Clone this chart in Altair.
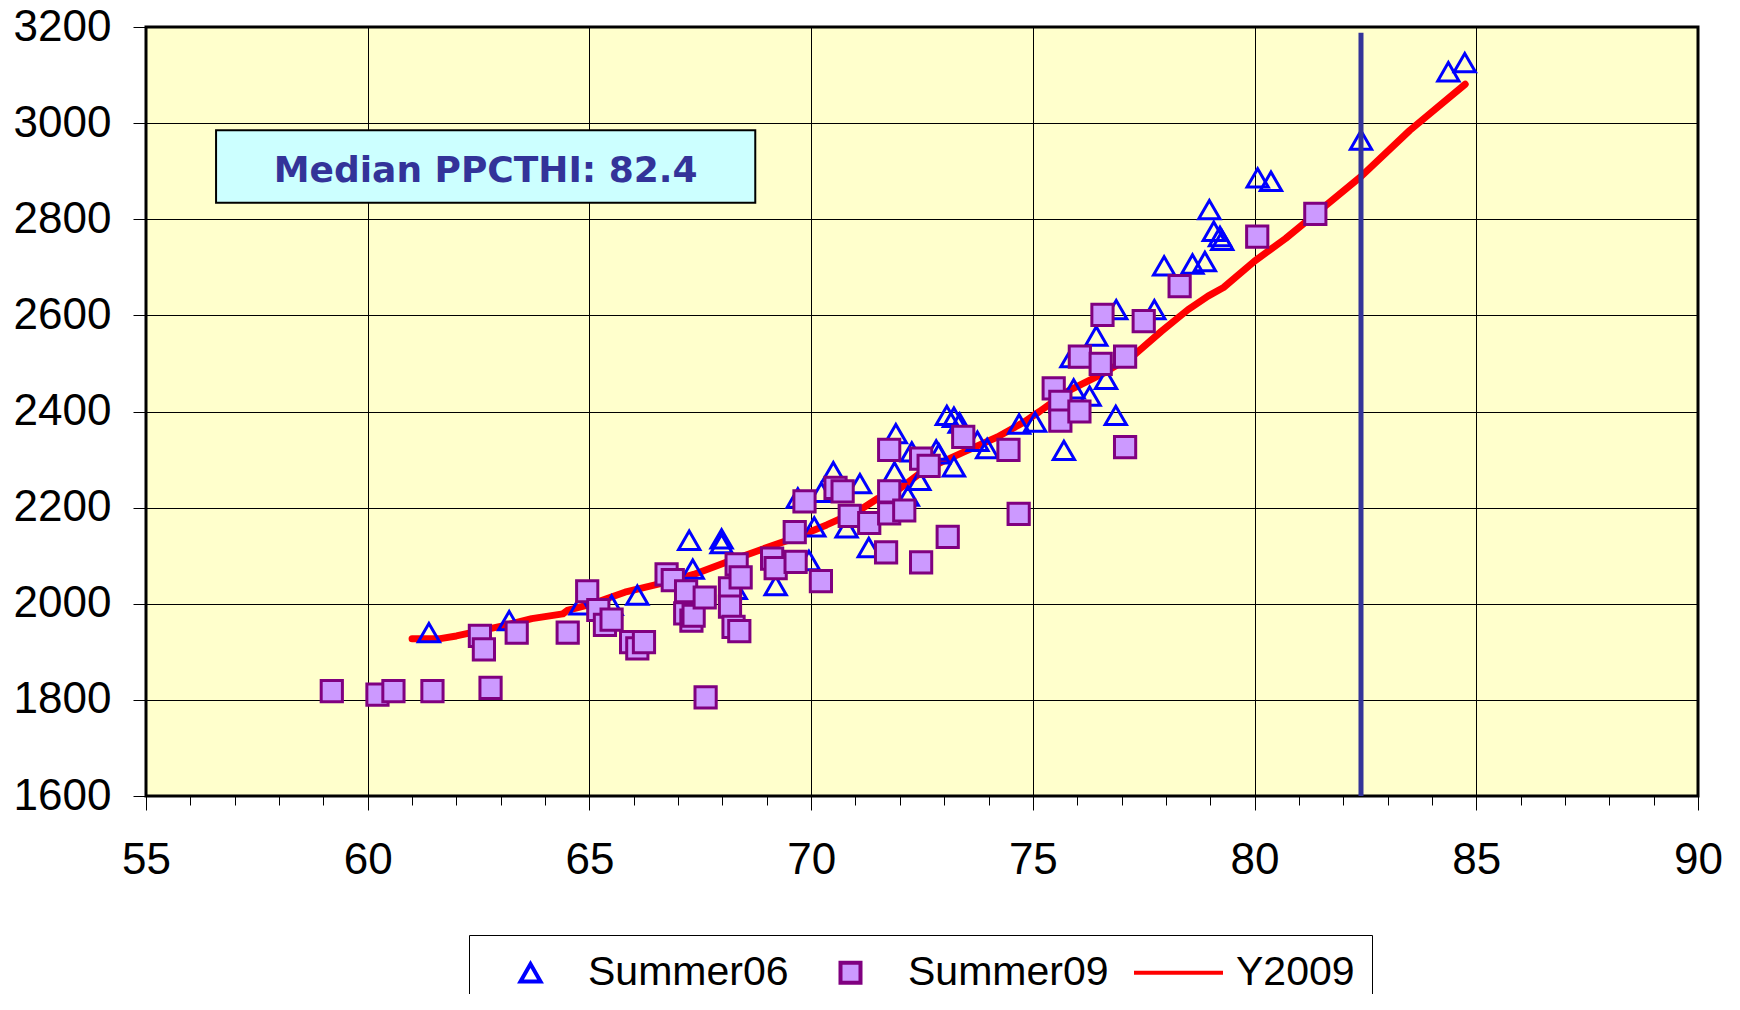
import altair as alt
import pandas as pd

# ---------------- data ----------------
series_names = ["Summer06", "Summer09", "Y2009"]

s06_x = [61.38, 63.19, 64.8, 65.5, 66.08, 67.25, 67.33, 67.98, 67.98, 68.3,
         69.2, 69.95, 70.07, 70.8, 71.3, 69.7, 70.23, 70.5, 71.1, 71.88,
         71.91, 72.18, 72.27, 72.44, 72.82, 72.88, 73.06, 73.22, 73.35, 73.75,
         73.97, 73.22, 74.69, 75.05, 75.7, 75.87, 75.92, 76.28, 76.65, 76.43,
         76.88, 76.87, 77.74, 77.96, 78.6, 78.88, 78.98, 79.08, 79.22, 79.27,
         80.07, 80.37, 82.4, 84.37, 84.74]
s06_y = [1940, 1965, 1998, 1997, 2018, 2132, 2072, 2135, 2125, 2030,
         2038, 2090, 2160, 2158, 2117, 2220, 2232, 2275, 2250, 2274,
         2354, 2224, 2316, 2257, 2320, 2312, 2392, 2388, 2376, 2338,
         2323, 2285, 2374, 2378, 2319, 2512, 2447, 2432, 2467, 2557,
         2612, 2392, 2612, 2703, 2707, 2712, 2820, 2775, 2764, 2756,
         2886, 2879, 2965, 3107, 3126]

s09_x = [59.19, 60.22, 60.58, 61.46, 62.53, 62.62, 62.77, 63.36, 64.51, 64.95,
         65.2, 65.35, 65.5, 65.94, 66.08, 66.23, 66.74, 66.88, 67.18, 67.16,
         67.3, 67.35, 67.6, 67.62, 68.17, 68.17, 68.25, 68.38, 68.32, 68.41,
         69.12, 69.2, 69.65, 69.63, 69.85, 70.22, 70.55, 70.71, 70.87, 71.31,
         71.69, 71.76, 71.76, 71.76, 72.1, 72.48, 72.48, 72.65, 73.08, 73.43,
         74.45, 74.68, 75.47, 75.62, 75.62, 76.05, 76.06, 76.53, 76.57, 77.08,
         77.08, 77.5, 78.31, 80.06, 81.37]
s09_y = [1818, 1811, 1818, 1818, 1933, 1905, 1825, 1940, 1940, 2026,
         1987, 1956, 1967, 1920, 1907, 1920, 2061, 2049, 2026, 1980,
         1965, 1975, 2013, 1805, 2032, 1994, 1952, 1943, 2082, 2055,
         2094, 2074, 2087, 2149, 2213, 2047, 2241, 2234, 2183, 2168,
         2107, 2320, 2234, 2188, 2194, 2086, 2302, 2287, 2139, 2347,
         2320, 2187, 2448, 2420, 2381, 2400, 2514, 2499, 2601, 2514,
         2326, 2588, 2661, 2764, 2811]

y09_x = [61.0, 61.6, 62.0, 62.6, 63.1, 63.7, 64.4, 64.5, 65.0, 65.8,
         66.6, 67.35, 68.1, 68.85, 69.6, 70.35, 71.1, 71.5, 71.95, 72.55,
         73.45, 74.2, 74.8, 75.15, 75.8, 76.6, 77.3, 77.9, 78.5, 78.95,
         79.3, 80.0, 80.7, 81.4, 82.4, 83.5, 84.75]
y09_y = [1927, 1927, 1933, 1945, 1955, 1969, 1979, 1986, 1998, 2024,
         2042, 2061, 2087, 2112, 2136, 2164, 2195, 2219, 2236, 2278,
         2316, 2347, 2378, 2400, 2443, 2480, 2519, 2567, 2612, 2640,
         2658, 2713, 2760, 2813, 2889, 2985, 3081]

median_ppcthi = 82.4
median_text = "Median PPCTHI: 82.4"
box_x = [56.58, 68.74]
box_y = [2834.5, 2985]
box_text_pos = [62.66, 2877]

x_ticks = list(range(55, 91))
y_ticks = list(range(1600, 3201, 200))

# ---------------- tables ----------------
pts = pd.DataFrame({
    "x": s06_x + s09_x,
    "y": s06_y + s09_y,
    "series": ["Summer06"] * len(s06_x) + ["Summer09"] * len(s09_x),
    "order": list(range(len(s06_x) + len(s09_x))),
})
line_df = pd.DataFrame({"x": y09_x, "y": y09_y})
median_df = pd.DataFrame({"x": [median_ppcthi], "y": [3188], "y2": [1600]})
box_df = pd.DataFrame({"x": [box_x[0]], "x2": [box_x[1]], "y": [box_y[0]], "y2": [box_y[1]]})
text_df = pd.DataFrame({"x": [box_text_pos[0]], "y": [box_text_pos[1]], "t": [median_text]})

FONT = "Liberation Sans, Arial, sans-serif"

xscale = alt.Scale(domain=[55, 90], nice=False, zero=False)
yscale = alt.Scale(domain=[1600, 3200], nice=False, zero=False)

x_axis = alt.Axis(
    values=x_ticks, title=None, format="d",
    labelExpr="datum.value % 5 === 0 ? datum.label : ''",
    labelFontSize=44, labelFont=FONT, labelColor="#000000",
    labelPadding=28, labelOverlap=False, labelFlush=False,
    tickSize={"condition": {"test": "datum.value % 5 === 0", "value": 14}, "value": 9},
    tickColor="#000000", tickWidth=1,
    grid=True, gridColor="#000000", gridWidth=1,
    gridOpacity={"condition": {"test": "datum.value % 5 === 0", "value": 1}, "value": 0},
    domain=False,
)
y_axis = alt.Axis(
    values=y_ticks, title=None, format="d",
    labelFontSize=44, labelFont=FONT, labelColor="#000000",
    labelPadding=22, labelOverlap=False, labelFlush=False,
    tickSize=13, tickColor="#000000", tickWidth=1,
    grid=True, gridColor="#000000", gridWidth=1,
    domain=False,
)

legend = alt.Legend(
    title=None, orient="none", legendX=323, legendY=908, direction="horizontal",
    labelFont=FONT, labelFontSize=41, labelColor="#000000", labelLimit=500,
    symbolSize=400, symbolStrokeWidth=4, symbolOffset=24, labelOffset=37,
    columnPadding=17, padding=17, strokeColor="#000000", fillColor="#FFFFFF",
)

line_path = "M-4.45,0H4.45"

base_x = alt.X("x:Q", scale=xscale, axis=x_axis)
base_y = alt.Y("y:Q", scale=yscale, axis=y_axis)

line_layer = alt.Chart(line_df).mark_line(
    color="#FF0000", strokeWidth=7, strokeCap="round", strokeJoin="round"
).encode(x=base_x, y=base_y, order="x:Q")

point_layer = alt.Chart(pts).mark_point(opacity=1, strokeWidth=3, fillOpacity=1).encode(
    x=alt.X("x:Q", scale=xscale),
    y=alt.Y("y:Q", scale=yscale),
    shape=alt.Shape("series:N", scale=alt.Scale(domain=series_names,
                                               range=["triangle-up", "square", line_path]),
                    legend=legend),
    stroke=alt.Stroke("series:N", scale=alt.Scale(domain=series_names,
                                                 range=["#0000FF", "#800080", "#FF0000"]),
                      legend=legend),
    fill=alt.Fill("series:N", scale=alt.Scale(domain=series_names,
                                             range=["transparent", "#CC99FF", "#FF0000"]),
                  legend=legend),
    size=alt.value(450),
    order="order:Q",
)

median_layer = alt.Chart(median_df).mark_rule(color="#333399", strokeWidth=5).encode(
    x=alt.X("x:Q", scale=xscale), y=alt.Y("y:Q", scale=yscale), y2="y2:Q"
)

box_layer = alt.Chart(box_df).mark_rect(fill="#CCFFFF", stroke="#000000", strokeWidth=2).encode(
    x=alt.X("x:Q", scale=xscale), x2="x2:Q", y=alt.Y("y:Q", scale=yscale), y2="y2:Q"
)

text_layer = alt.Chart(text_df).mark_text(
    font="DejaVu Sans", fontSize=36, fontWeight="bold", color="#333399",
    align="center", baseline="alphabetic"
).encode(x=alt.X("x:Q", scale=xscale), y=alt.Y("y:Q", scale=yscale), text="t:N")

chart = alt.layer(line_layer, point_layer, median_layer, box_layer, text_layer).properties(
    width=1552, height=769,
    autosize=alt.AutoSizeParams(type="none"),
    padding={"left": 138, "top": 19, "right": 26, "bottom": 198},
    background="#FFFFFF",
).configure_view(fill="#FFFFCC", stroke="#000000", strokeWidth=3)

chart.save("out.html", embed_options={"renderer": "svg", "actions": False})
